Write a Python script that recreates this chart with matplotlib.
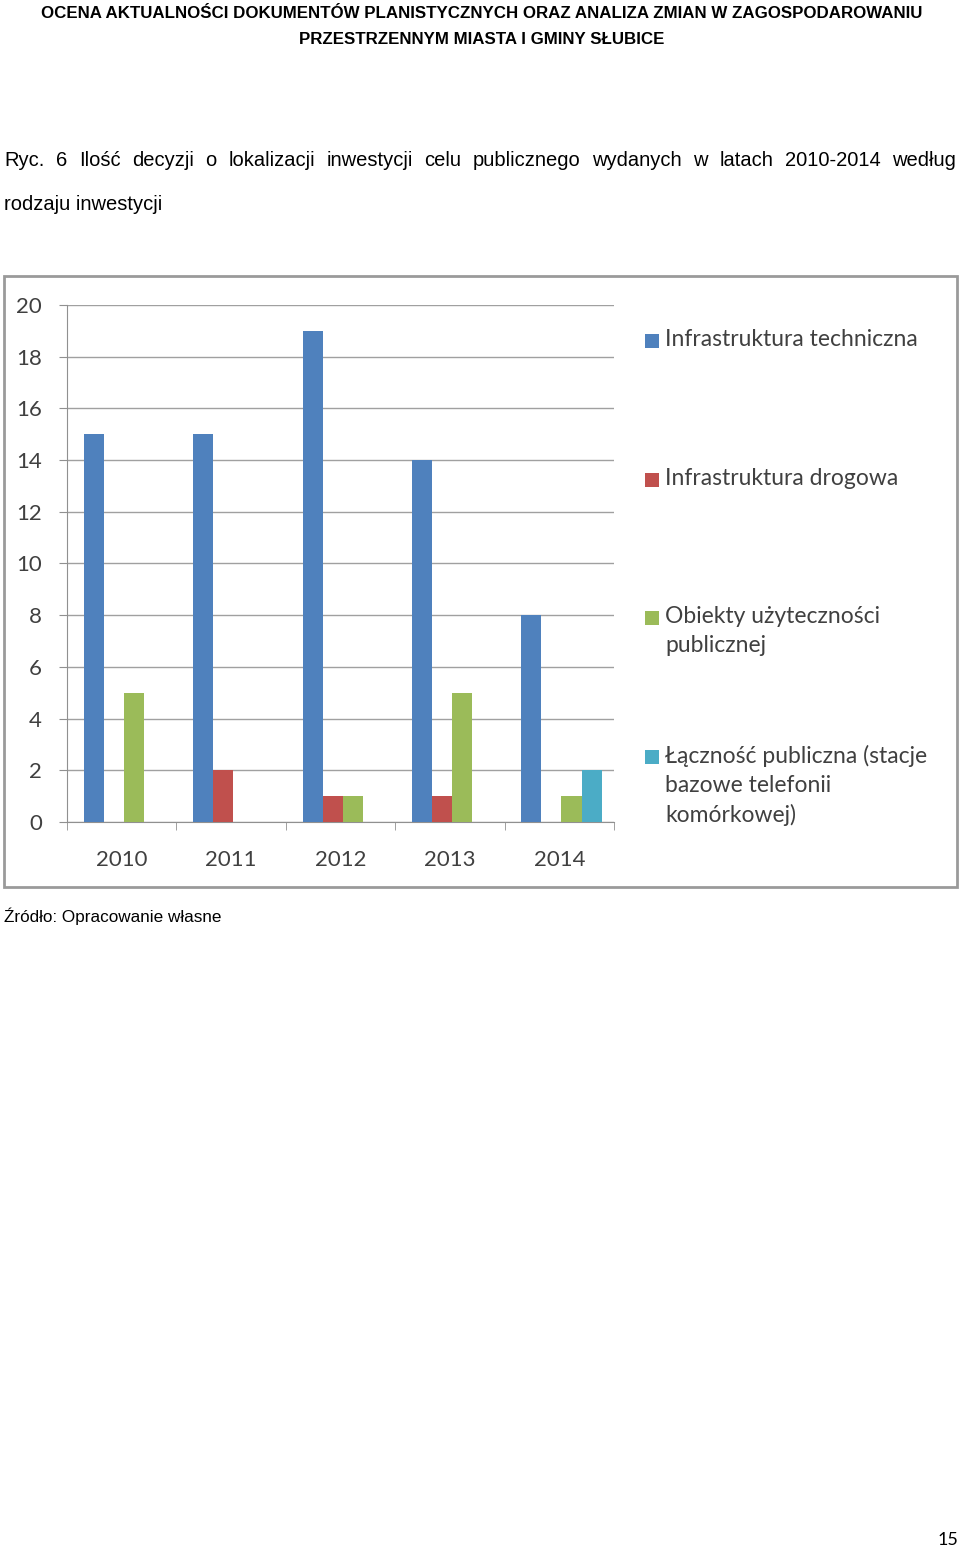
import matplotlib
matplotlib.use("Agg")
import matplotlib.pyplot as plt
from matplotlib.patches import Rectangle
import numpy as np

years = ["2010", "2011", "2012", "2013", "2014"]
series_names = ["Infrastruktura techniczna", "Infrastruktura drogowa",
                "Obiekty użyteczności\npublicznej",
                "Łączność publiczna (stacje\nbazowe telefonii\nkomórkowej)"]
techniczna = [15, 15, 19, 14, 8]
drogowa = [0, 2, 1, 1, 0]
uzytecznosci = [5, 0, 1, 5, 1]
lacznosc = [0, 0, 0, 0, 2]
colors = ["#4F81BD", "#C0504D", "#9BBB59", "#4BACC6"]
yticks = [0, 2, 4, 6, 8, 10, 12, 14, 16, 18, 20]

W, H = 960, 1551
fig = plt.figure(figsize=(W/100, H/100), dpi=100)
narrow = ["Liberation Sans"]
cal = ["Lato", "Open Sans", "DejaVu Sans"]

def fy(y): return 1 - y/H
def fx(x): return x/W

fig.text(fx(482), fy(14), "OCENA AKTUALNOŚCI DOKUMENTÓW PLANISTYCZNYCH ORAZ ANALIZA ZMIAN W ZAGOSPODAROWANIU",
         ha="center", va="center", fontsize=12.2, fontweight="bold", family=narrow)
fig.text(fx(482), fy(39), "PRZESTRZENNYM MIASTA I GMINY SŁUBICE",
         ha="center", va="center", fontsize=12.2, fontweight="bold", family=narrow)

# justified caption line
caption1 = "Ryc. 6 Ilość decyzji o lokalizacji inwestycji celu publicznego wydanych w latach 2010-2014 według"
words = caption1.split(" ")
renderer = fig.canvas.get_renderer()
objs = [fig.text(0, fy(160), w, ha="left", va="center", fontsize=14.5, family=narrow) for w in words]
widths = [o.get_window_extent(renderer).width for o in objs]
gap = (956 - 4 - sum(widths)) / (len(words) - 1)
xpos = 4
for o, wd in zip(objs, widths):
    o.set_x(fx(xpos))
    xpos += wd + gap
fig.text(fx(4), fy(204), "rodzaju inwestycji", ha="left", va="center", fontsize=14.5, family=narrow)
fig.text(fx(4), fy(916), "Źródło: Opracowanie własne", ha="left", va="center", fontsize=12.3, family=narrow)
fig.text(fx(958), fy(1540), "15", ha="right", va="center", fontsize=13, family=cal)

fig.patches.append(Rectangle((fx(4), fy(887)), fx(953), 611/H, transform=fig.transFigure,
                             fill=False, edgecolor="#9A9A9A", linewidth=2))

ax = fig.add_axes([fx(67), fy(822), fx(614-67), (822-305)/H])
x = np.arange(len(years))
bw = 0.183
data = [techniczna, drogowa, uzytecznosci, lacznosc]
for i, (d, c) in enumerate(zip(data, colors)):
    ax.bar(x + (i - 1.5)*bw + 0.02, d, width=bw, color=c, zorder=3)
ax.set_xlim(-0.5, 4.5)
ax.set_ylim(0, 20)
ax.set_yticks(yticks)
ax.set_yticklabels([str(v) for v in yticks], fontsize=16, family=cal, color="#404040")
ax.yaxis.grid(True, color="#A0A0A0", linewidth=1, zorder=0)
ax.set_xticks(x)
ax.set_xticklabels(years, fontsize=16, family=cal, color="#404040")
ax.tick_params(axis="x", length=0, pad=20)
ax.set_xticks(np.arange(-0.5, 5, 1), minor=True)
ax.tick_params(axis="x", which="minor", length=6, color="#909090", direction="out")
ax.tick_params(axis="y", length=6, color="#909090", direction="out", pad=12)
for s in ["top", "right"]:
    ax.spines[s].set_visible(False)
ax.spines["left"].set_color("#909090")
ax.spines["bottom"].set_color("#909090")

leg_y = [341, 480, 618, 757]
for yy, name, c in zip(leg_y, series_names, colors):
    fig.patches.append(Rectangle((fx(645), fy(yy+7)), 14/W, 14/H, transform=fig.transFigure,
                                 facecolor=c, edgecolor="none"))
    fig.text(fx(665), fy(yy-12), name, ha="left", va="top", fontsize=16.5, family=cal,
             color="#404040", linespacing=1.45)

fig.savefig("out.png", dpi=100, facecolor="white")
